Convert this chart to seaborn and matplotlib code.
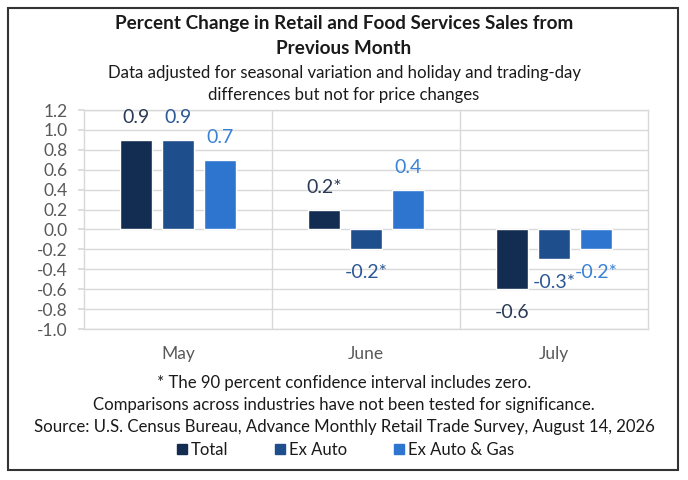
import matplotlib
matplotlib.use("Agg")
import matplotlib.pyplot as plt
import seaborn as sns
import pandas as pd
from matplotlib.patches import Rectangle
from matplotlib.lines import Line2D

months = ["May", "June", "July"]
series = ["Total", "Ex Auto", "Ex Auto & Gas"]
total = [0.9, 0.2, -0.6]
ex_auto = [0.9, -0.2, -0.3]
ex_auto_gas = [0.7, 0.4, -0.2]
labels_total = ["0.9", "0.2*", "-0.6"]
labels_ex_auto = ["0.9", "-0.2*", "-0.3*"]
labels_ex_auto_gas = ["0.7", "0.4", "-0.2*"]
yticks = [1.2, 1.0, 0.8, 0.6, 0.4, 0.2, 0.0, -0.2, -0.4, -0.6, -0.8, -1.0]

bar_colors = ["#132d52", "#1f4e8c", "#2e75d0"]
label_colors = ["#2a3a55", "#2d5896", "#3a82d6"]

sns.set_theme(style="white")
plt.rcParams["font.family"] = ["Lato", "DejaVu Sans"]

rows = []
for s, vals in zip(series, [total, ex_auto, ex_auto_gas]):
    for m, v in zip(months, vals):
        rows.append({"Month": m, "Series": s, "Value": v})
df = pd.DataFrame(rows)

fig = plt.figure(figsize=(6.88, 4.8), dpi=100)
ax = fig.add_axes([84/688, 1-329/480, (648-84)/688, (329-110)/480])

sns.barplot(data=df, x="Month", y="Value", hue="Series", order=months,
            hue_order=series, palette=bar_colors, width=0.67, gap=0.22,
            saturation=1, legend=False, ax=ax, errorbar=None)

ax.set_ylim(-1.0, 1.2)
ax.set_xlim(-0.5, 2.5)
ax.set_yticks(yticks)
ax.set_yticklabels([f"{t:.1f}" for t in yticks])
ax.yaxis.grid(True, color="#d9d9d9", linewidth=1)
ax.set_axisbelow(True)
for x in [0.5, 1.5]:
    ax.axvline(x, color="#d9d9d9", linewidth=1, zorder=0)
for sp in ax.spines.values():
    sp.set_color("#d9d9d9")
    sp.set_linewidth(1)
ax.tick_params(axis="y", length=4, color="#d9d9d9", labelsize=12.5,
               labelcolor="#595959", pad=8, left=True)
ax.tick_params(axis="x", length=0, labelsize=12.5, labelcolor="#595959", pad=12)
ax.set_xlabel("")
ax.set_ylabel("")

values = [total, ex_auto, ex_auto_gas]
all_labels = [labels_total, labels_ex_auto, labels_ex_auto_gas]
for i, container in enumerate(ax.containers):
    for j, bar in enumerate(container):
        val = values[i][j]
        y0 = bar.get_y()
        y1 = y0 + bar.get_height()
        y = max(y0, y1) if val >= 0 else min(y0, y1)
        off = 16 if val >= 0 else -17
        ax.annotate(all_labels[i][j], (bar.get_x() + bar.get_width() / 2, y),
                    xytext=(0, off), textcoords="offset points",
                    ha="center", va="center", fontsize=14,
                    color=label_colors[i])

title_kw = dict(ha="center", va="center", fontsize=13.6, fontweight="bold", color="#1a1a1a")
sub_kw = dict(ha="center", va="center", fontsize=12.1, color="#1a1a1a")
fig.text(0.5, 1-24/480, "Percent Change in Retail and Food Services Sales from", **title_kw)
fig.text(0.5, 1-48/480, "Previous Month", **title_kw)
fig.text(0.5, 1-73/480, "Data adjusted for seasonal variation and holiday and trading-day", **sub_kw)
fig.text(0.5, 1-95/480, "differences but not for price changes", **sub_kw)

fig.text(0.5, 1-383/480, "* The 90 percent confidence interval includes zero.", **sub_kw)
fig.text(0.5, 1-405/480, "Comparisons across industries have not been tested for significance.", **sub_kw)
fig.text(0.5, 1-427/480, "Source: U.S. Census Bureau, Advance Monthly Retail Trade Survey, August 14, 2026", **sub_kw)

handles = [Line2D([0], [0], marker="s", linestyle="none", markersize=7,
                  markerfacecolor=c, markeredgecolor=c) for c in bar_colors]
fig.legend(handles, series, loc="center", bbox_to_anchor=(0.5, 1-450/480),
           ncol=3, frameon=False, fontsize=12, handletextpad=0.05,
           columnspacing=2.6, handlelength=1.0, labelcolor="#1a1a1a")

fig.patches.append(Rectangle((8/688, 1-470/480), 670/688, 462/480,
                             transform=fig.transFigure, fill=False,
                             edgecolor="#333333", linewidth=1.5))

fig.savefig("out.png", dpi=100)
